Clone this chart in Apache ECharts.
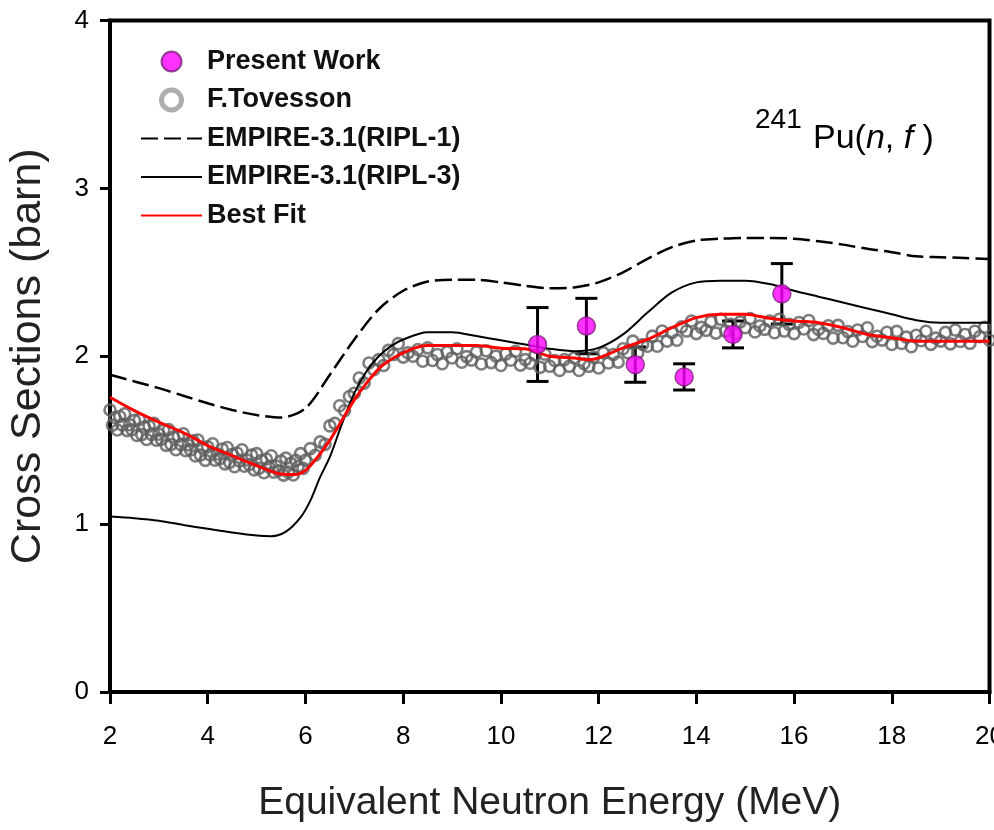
<!DOCTYPE html>
<html>
<head>
<meta charset="utf-8">
<script src="https://cdn.jsdelivr.net/npm/echarts@6/dist/echarts.min.js"></script>
<style>
  html, body { margin: 0; padding: 0; background: #fff; }
  #chart { width: 994px; height: 830px; }
</style>
</head>
<body>
<div id="chart"></div>
<script>
// ---- data -------------------------------------------------------------
const xTickValues = [2, 4, 6, 8, 10, 12, 14, 16, 18, 20];
const yTickValues = [0, 1, 2, 3, 4];

// Present work: energy (MeV), cross section (barn), uncertainty (barn)
const pwEnergy = [10.75, 11.75, 12.75, 13.75, 14.75, 15.75];
const pwXS     = [2.07, 2.18, 1.95, 1.877, 2.13, 2.372];
const pwErr    = [0.22, 0.165, 0.105, 0.078, 0.08, 0.18];

// F.Tovesson measurement [energy, cross section]
const tovesson = [
  [2.00,1.680],[2.05,1.590],[2.10,1.635],[2.15,1.561],[2.20,1.641],[2.25,1.591],[2.30,1.657],[2.35,1.557],
  [2.40,1.592],[2.45,1.562],[2.50,1.618],[2.55,1.528],[2.60,1.623],[2.65,1.533],[2.70,1.579],[2.75,1.504],
  [2.80,1.584],[2.85,1.534],[2.90,1.600],[2.95,1.500],[3.00,1.535],[3.05,1.505],[3.10,1.560],[3.15,1.469],
  [3.20,1.564],[3.25,1.474],[3.30,1.519],[3.35,1.443],[3.40,1.523],[3.45,1.473],[3.50,1.538],[3.55,1.437],
  [3.60,1.472],[3.65,1.442],[3.70,1.497],[3.75,1.406],[3.80,1.501],[3.85,1.411],[3.90,1.456],[3.95,1.380],
  [4.00,1.460],[4.05,1.412],[4.10,1.479],[4.15,1.381],[4.20,1.418],[4.25,1.390],[4.30,1.447],[4.35,1.359],
  [4.40,1.456],[4.45,1.368],[4.50,1.415],[4.55,1.342],[4.60,1.424],[4.65,1.376],[4.70,1.443],[4.75,1.345],
  [4.80,1.382],[4.85,1.354],[4.90,1.411],[4.95,1.323],[5.00,1.420],[5.05,1.332],[5.10,1.379],[5.15,1.306],
  [5.20,1.388],[5.25,1.340],[5.30,1.407],[5.35,1.309],[5.40,1.346],[5.45,1.318],[5.50,1.375],[5.55,1.292],
  [5.60,1.393],[5.65,1.310],[5.70,1.362],[5.75,1.293],[5.80,1.380],[5.85,1.343],[5.90,1.420],[5.95,1.332],
  [6.00,1.380],
  [6.1,1.450],[6.2,1.410],[6.3,1.490],[6.4,1.475],[6.5,1.585],[6.6,1.600],[6.7,1.705],[6.8,1.675],
  [6.9,1.760],[7.0,1.780],[7.1,1.870],[7.2,1.840],[7.3,1.960],[7.4,1.920],[7.5,1.980],[7.6,1.945],
  [7.7,2.035],[7.8,2.010],[7.9,2.075],[8.0,1.995],[8.1,2.020],[8.2,2.000],[8.3,2.040],[8.4,1.970],
  [8.5,2.050],[8.6,1.975],[8.7,2.010],[8.8,1.955],[8.9,2.025],[9.0,1.990],[9.1,2.045],[9.2,1.964],
  [9.3,1.998],[9.4,1.977],[9.5,2.025],[9.6,1.954],[9.7,2.033],[9.8,1.962],[9.9,2.001],[10.0,1.945],
  [10.1,2.013],[10.2,1.976],[10.3,2.029],[10.4,1.947],[10.5,1.980],[10.6,1.958],[10.7,2.006],[10.8,1.934],
  [10.9,2.012],[11.0,1.940],[11.1,1.975],[11.2,1.915],[11.3,1.980],[11.4,1.940],[11.5,1.990],[11.6,1.915],
  [11.7,1.955],[11.8,1.940],[11.9,1.995],[12.0,1.930],[12.1,2.020],[12.2,1.960],[12.3,2.010],[12.4,1.965],
  [12.5,2.045],[12.6,2.020],[12.7,2.090],[12.8,2.020],[12.9,2.070],[13.0,2.060],[13.1,2.120],[13.2,2.060],
  [13.3,2.150],[13.4,2.090],[13.5,2.140],[13.6,2.095],[13.7,2.175],[13.8,2.150],[13.9,2.210],[14.0,2.135],
  [14.1,2.172],[14.2,2.154],[14.3,2.206],[14.4,2.138],[14.5,2.220],[14.6,2.150],[14.7,2.190],[14.8,2.135],
  [14.9,2.205],[15.0,2.170],[15.1,2.225],[15.2,2.145],[15.3,2.180],[15.4,2.160],[15.5,2.210],[15.6,2.140],
  [15.7,2.220],[15.8,2.150],[15.9,2.190],[16.0,2.135],[16.1,2.201],[16.2,2.162],[16.3,2.213],[16.4,2.129],
  [16.5,2.160],[16.6,2.136],[16.7,2.182],[16.8,2.108],[16.9,2.184],[17.0,2.110],[17.1,2.147],[17.2,2.089],
  [17.3,2.156],[17.4,2.118],[17.5,2.170],[17.6,2.087],[17.7,2.119],[17.8,2.096],[17.9,2.143],[18.0,2.070],
  [18.1,2.148],[18.2,2.076],[18.3,2.114],[18.4,2.057],[18.5,2.125],[18.6,2.092],[18.7,2.149],[18.8,2.071],
  [18.9,2.108],[19.0,2.090],[19.1,2.142],[19.2,2.074],[19.3,2.156],[19.4,2.088],[19.5,2.130],[19.6,2.077],
  [19.7,2.149],[19.8,2.116],[19.9,2.173],[20.0,2.095]
];

// EMPIRE-3.1 with RIPL-1 level densities
const empireRipl1 = [
  [2,1.89],[2.5,1.85],[3,1.81],[3.5,1.765],[4,1.72],[4.5,1.68],[5,1.65],[5.5,1.635],[6,1.69],
  [6.5,1.89],[7,2.10],[7.5,2.28],[8,2.39],[8.5,2.445],[9,2.455],[9.5,2.455],[10,2.44],[10.5,2.42],
  [11,2.405],[11.5,2.41],[12,2.44],[12.5,2.50],[13,2.58],[13.5,2.65],[14,2.69],[14.5,2.70],
  [15,2.705],[15.5,2.705],[16,2.70],[16.5,2.685],[17,2.665],[17.5,2.64],[18,2.62],[18.5,2.595],
  [19,2.59],[19.5,2.585],[20,2.58]
];

// EMPIRE-3.1 with RIPL-3 level densities
const empireRipl3 = [
  [2,1.045],[2.5,1.035],[3,1.02],[3.5,0.995],[4,0.972],[4.5,0.95],[5,0.932],[5.3,0.928],[5.6,0.955],
  [5.9,1.04],[6.1,1.14],[6.3,1.28],[6.5,1.40],[6.75,1.60],[7,1.78],[7.25,1.91],[7.5,2.00],[7.75,2.06],
  [8,2.10],[8.5,2.143],[9,2.143],[9.5,2.12],[10,2.095],[10.5,2.07],[11,2.045],[11.5,2.03],[12,2.05],
  [12.5,2.13],[13,2.26],[13.5,2.38],[14,2.44],[14.5,2.45],[15,2.45],[15.5,2.43],[16,2.39],
  [16.5,2.355],[17,2.32],[17.5,2.285],[18,2.25],[18.5,2.215],[19,2.20],[19.5,2.20],[20,2.20]
];

// Best-fit calculation
const bestFit = [
  [2,1.756],[2.5,1.676],[3,1.607],[3.5,1.545],[4,1.468],[4.5,1.408],[5,1.349],[5.5,1.298],[5.8,1.295],
  [6,1.32],[6.25,1.40],[6.5,1.50],[6.75,1.62],[7,1.74],[7.25,1.84],[7.5,1.925],[7.75,1.98],[8,2.02],
  [8.25,2.05],[8.5,2.064],[9,2.064],[9.5,2.064],[10,2.048],[10.5,2.044],[11,2.00],[11.5,1.99],
  [11.8,1.979],[12,1.99],[12.5,2.05],[13,2.10],[13.5,2.17],[14,2.23],[14.5,2.25],[15,2.25],
  [15.5,2.226],[16,2.21],[16.5,2.20],[17,2.17],[17.5,2.13],[18,2.11],[18.5,2.09],[19,2.09],
  [19.5,2.09],[20,2.09]
];

// ---- chart ------------------------------------------------------------
const FONT = '"Liberation Sans", Arial, Helvetica, sans-serif';
const NO_FILL = 'rgba(0,0,0,0)';
const chart = echarts.init(document.getElementById('chart'), null, { renderer: 'canvas' });

const presentPoints = pwEnergy.map((e, i) => [e, pwXS[i]]);
const presentBars = pwEnergy.map((e, i) => [e, pwXS[i] - pwErr[i], pwXS[i] + pwErr[i]]);

const option = {
  backgroundColor: '#fff',
  animation: false,
  grid: {
    left: 110, right: 4.5, top: 20.5, bottom: 138,
    outerBoundsMode: 'none', containLabel: false,
    show: true, borderColor: '#000', borderWidth: 4, backgroundColor: 'transparent'
  },
  xAxis: {
    type: 'value', min: xTickValues[0], max: xTickValues[xTickValues.length - 1], interval: 2,
    axisLine: { onZero: false, lineStyle: { color: '#000', width: 4 } },
    axisTick: { inside: false, length: 12, lineStyle: { color: '#000', width: 3 } },
    axisLabel: { fontSize: 26, color: '#000', fontFamily: FONT, margin: 32, hideOverlap: false },
    splitLine: { show: false },
    name: 'Equivalent Neutron Energy (MeV)', nameLocation: 'middle', nameGap: 92,
    nameTextStyle: { fontSize: 39, color: '#222', fontFamily: FONT }
  },
  yAxis: {
    type: 'value', min: yTickValues[0], max: yTickValues[yTickValues.length - 1], interval: 1,
    axisLine: { onZero: false, lineStyle: { color: '#000', width: 4 } },
    axisTick: { inside: false, length: 10, lineStyle: { color: '#000', width: 3 } },
    axisLabel: { fontSize: 26, color: '#000', fontFamily: FONT, margin: 21 },
    splitLine: { show: false },
    name: 'Cross Sections (barn)', nameLocation: 'middle', nameGap: 60,
    nameTextStyle: { fontSize: 43, color: '#222', fontFamily: FONT }
  },
  legend: {
    orient: 'vertical', left: 135, top: 43, itemWidth: 61, itemHeight: 20, itemGap: 11.5,
    textStyle: { fontSize: 27, fontWeight: 'bold', color: '#111', fontFamily: FONT, lineHeight: 27 },
    data: [
      { name: 'Present Work', icon: 'circle' },
      { name: 'F.Tovesson', icon: 'circle', itemStyle: { color: '#fff', borderColor: '#9a9a9a', borderWidth: 5 } },
      { name: 'EMPIRE-3.1(RIPL-1)', itemStyle: { color: NO_FILL, borderWidth: 0, opacity: 0 } },
      { name: 'EMPIRE-3.1(RIPL-3)', itemStyle: { color: NO_FILL, borderWidth: 0, opacity: 0 } },
      { name: 'Best Fit', itemStyle: { color: NO_FILL, borderWidth: 0, opacity: 0 } }
    ]
  },
  graphic: [
    { type: 'text', left: 755, top: 106, z: 10,
      style: { text: '241', font: '28px ' + FONT, fill: '#000' } },
    { type: 'text', left: 813, top: 122, z: 10,
      style: {
        text: '{m|Pu(}{i|n}{m|, }{i|f}{m| )}',
        rich: {
          m: { fontSize: 34, fontFamily: FONT, color: '#000' },
          i: { fontSize: 34, fontFamily: FONT, fontStyle: 'italic', color: '#000' }
        }
      } }
  ],
  series: [
    {
      name: 'F.Tovesson', type: 'scatter', data: tovesson, symbol: 'circle', symbolSize: 11,
      itemStyle: { color: NO_FILL, borderColor: '#5e5e5e', borderWidth: 2.6 },
      emphasis: { disabled: true }
    },
    {
      name: 'EMPIRE-3.1(RIPL-1)', type: 'line', data: empireRipl1, symbol: 'none',
      smooth: 0.3, itemStyle: { color: NO_FILL },
      lineStyle: { color: '#000', width: 2.5, type: [17, 6] }
    },
    {
      name: 'EMPIRE-3.1(RIPL-3)', type: 'line', data: empireRipl3, symbol: 'none',
      smooth: 0.3, itemStyle: { color: NO_FILL },
      lineStyle: { color: '#000', width: 2 }
    },
    {
      name: 'Best Fit', type: 'line', data: bestFit, symbol: 'none',
      smooth: 0.25, itemStyle: { color: NO_FILL },
      lineStyle: { color: '#ff0000', width: 3 }
    },
    {
      name: 'Present Work error', type: 'custom', data: presentBars,
      encode: { x: 0, y: [1, 2] },
      renderItem: function (params, api) {
        const lo = api.coord([api.value(0), api.value(1)]);
        const hi = api.coord([api.value(0), api.value(2)]);
        const w = 11;
        const st = { stroke: '#000', lineWidth: 3 };
        return {
          type: 'group',
          children: [
            { type: 'line', shape: { x1: lo[0], y1: lo[1], x2: hi[0], y2: hi[1] }, style: st },
            { type: 'line', shape: { x1: lo[0] - w, y1: lo[1], x2: lo[0] + w, y2: lo[1] }, style: st },
            { type: 'line', shape: { x1: hi[0] - w, y1: hi[1], x2: hi[0] + w, y2: hi[1] }, style: st }
          ]
        };
      }
    },
    {
      name: 'Present Work', type: 'scatter', data: presentPoints, symbol: 'circle', symbolSize: 18,
      itemStyle: { color: '#ff00ff', borderColor: '#7d1f7d', borderWidth: 1.5 },
      z: 4
    }
  ]
};

chart.setOption(option);
</script>
</body>
</html>
